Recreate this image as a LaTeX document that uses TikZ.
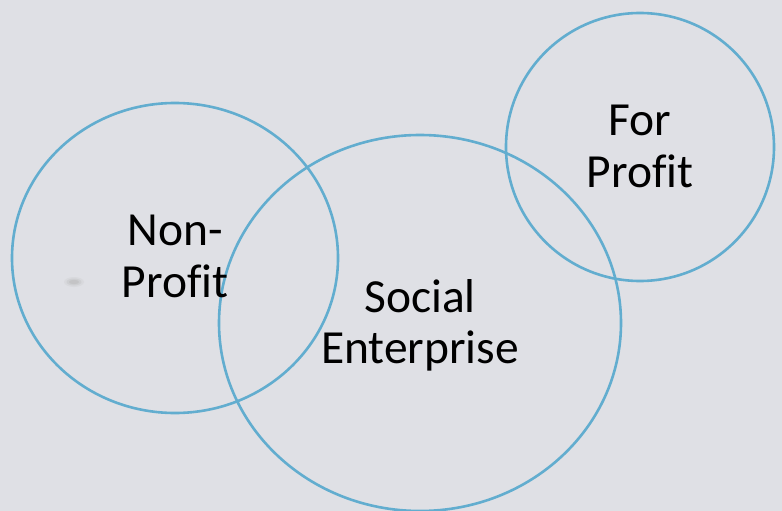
\documentclass[tikz,border=0pt]{standalone}
\usepackage{fontspec}
\setmainfont[Ligatures=NoCommon]{Carlito}
\definecolor{bg}{HTML}{DFE0E5}
\definecolor{ring}{HTML}{62ADCF}
\begin{document}
\begin{tikzpicture}[x=1pt,y=-1pt,
  ringline/.style={draw=ring,line width=2.6pt},
  lbl/.style={anchor=base,inner sep=0pt,font=\fontsize{47.5}{52}\selectfont}]
\fill[bg] (0,0) rectangle (782,511);
\useasboundingbox (0,0) rectangle (782,511);
\fill[black!30,opacity=0.15] (74,282) ellipse (10 and 5);
\fill[black!30,opacity=0.25] (74,282) ellipse (7.5 and 3.5);
\fill[black!30,opacity=0.35] (74,282) ellipse (5 and 2.2);
\draw[ringline] (175,258) ellipse (163 and 155);
\draw[ringline] (420,323) ellipse (201 and 188);
\draw[ringline] (640,147) ellipse (134 and 134);
\node[lbl] (np1) at (175,245) {Non-};
\node[lbl] (np2) at (175,297) {Profit};
\node[lbl] (se1) at (420,312) {Social};
\node[lbl] (se2) at (420,363) {Enterprise};
\node[lbl] (fp1) at (640,135) {For};
\node[lbl] (fp2) at (640,187) {Profit};
\end{tikzpicture}
\end{document}
